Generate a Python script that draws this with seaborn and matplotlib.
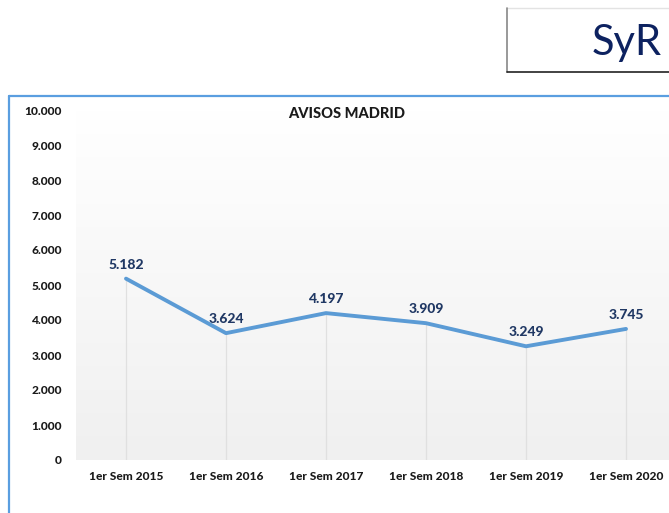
import numpy as np
import pandas as pd
import matplotlib
matplotlib.use("Agg")
import matplotlib.pyplot as plt
from matplotlib.colors import LinearSegmentedColormap
from matplotlib.lines import Line2D
import seaborn as sns

categories = ["1er Sem 2015", "1er Sem 2016", "1er Sem 2017",
              "1er Sem 2018", "1er Sem 2019", "1er Sem 2020"]
avisos = [5182, 3624, 4197, 3909, 3249, 3745]
yticks = [0, 1000, 2000, 3000, 4000, 5000, 6000, 7000, 8000, 9000, 10000]
ytick_labels = ["0", "1.000", "2.000", "3.000", "4.000", "5.000",
                "6.000", "7.000", "8.000", "9.000", "10.000"]
title = "AVISOS MADRID"
brand = "SyR"

sns.set_theme(style="white")
plt.rcParams["font.family"] = ["Lato", "DejaVu Sans"]

W, H = 669, 513
fig = plt.figure(figsize=(W / 100, H / 100), dpi=100)
fig.patch.set_facecolor("white")

ax = fig.add_axes([76 / W, (H - 460) / H, 600 / W, 350 / H])
ax.set_facecolor("white")

df = pd.DataFrame({"periodo": categories, "avisos": avisos})

# gradient background: light gray at bottom fading to white at top
cmap = LinearSegmentedColormap.from_list("bg", ["#ffffff", "#f0f0f0"])
grad = np.linspace(1, 0, 256).reshape(-1, 1)
ax.imshow(grad, extent=[-0.5, 5.5, 0, 10000], aspect="auto", cmap=cmap,
          zorder=0, origin="lower", vmin=0, vmax=1)

# drop lines
ax.vlines(df["periodo"], 0, df["avisos"], colors="#e0e0e0", linewidth=0.9, zorder=1)

sns.lineplot(data=df, x="periodo", y="avisos", ax=ax, color="#5b9bd5",
             linewidth=2.8, sort=False, zorder=3)

for c, v in zip(categories, avisos):
    ax.annotate(f"{v/1000:.3f}", xy=(c, v), xytext=(0, 8),
                textcoords="offset pixels", ha="center", va="bottom",
                fontsize=10, fontweight="black", color="#203864", zorder=4)

ax.set_xlim(-0.5, 5.5)
ax.set_ylim(0, 10000)
ax.set_yticks(yticks)
ax.set_yticklabels(ytick_labels)
ax.tick_params(axis="y", length=0, pad=10, labelsize=8.6, labelcolor="#1a1a1a")
ax.tick_params(axis="x", length=0, pad=8, labelsize=8.6, labelcolor="#1a1a1a")
for lab in ax.get_xticklabels() + ax.get_yticklabels():
    lab.set_fontweight("black")
ax.set_xlabel("")
ax.set_ylabel("")
for s in ax.spines.values():
    s.set_visible(False)
ax.grid(False)

fig.text(347 / W, 1 - 114 / H, title, ha="center", va="center",
         fontsize=10.5, fontweight="black", color="#1a1a1a")

# chart frame (blue)
frame_color = "#5a9ee0"
fig.add_artist(Line2D([9 / W, 1.0], [1 - 96 / H, 1 - 96 / H], color=frame_color,
                      linewidth=1.6, transform=fig.transFigure))
fig.add_artist(Line2D([9 / W, 9 / W], [0, 1 - 96 / H], color=frame_color,
                      linewidth=1.6, transform=fig.transFigure))

# brand box
fig.add_artist(Line2D([507 / W, 1.0], [1 - 8 / H, 1 - 8 / H], color="#e3e3e3",
                      linewidth=1, transform=fig.transFigure))
fig.add_artist(Line2D([507 / W, 507 / W], [1 - 72 / H, 1 - 8 / H], color="#888888",
                      linewidth=1.2, transform=fig.transFigure))
fig.add_artist(Line2D([507 / W, 1.0], [1 - 72 / H, 1 - 72 / H], color="#222222",
                      linewidth=1.2, transform=fig.transFigure))
fig.text(662 / W, 1 - 43 / H, brand, ha="right", va="center",
         fontsize=30, color="#0d2260")

fig.savefig("out.png", dpi=100, facecolor="white")
